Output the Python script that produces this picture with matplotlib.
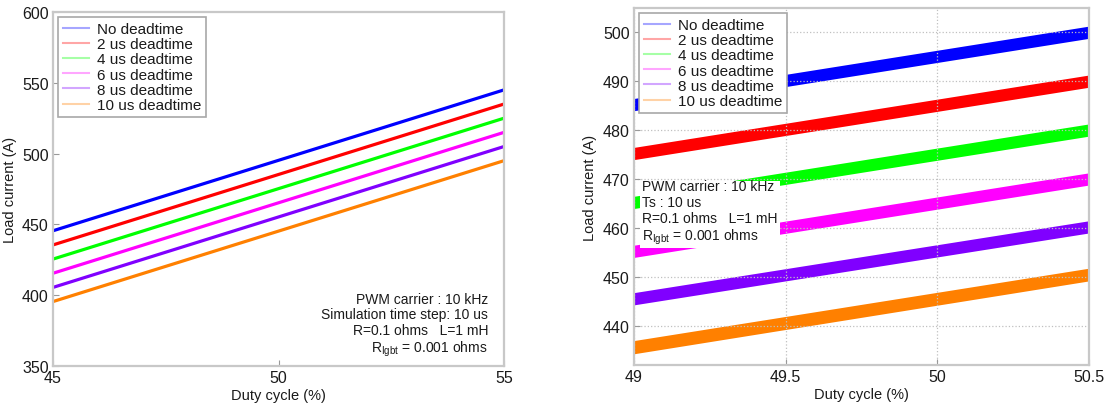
import matplotlib
matplotlib.use("Agg")
import matplotlib.pyplot as plt

plt.rcParams['font.family'] = ['Liberation Sans', 'DejaVu Sans']
plt.rcParams['mathtext.fontset'] = 'custom'
plt.rcParams['mathtext.rm'] = 'Liberation Sans'
plt.rcParams['mathtext.it'] = 'Liberation Sans'

labels = ['No deadtime', '2 us deadtime', '4 us deadtime',
          '6 us deadtime', '8 us deadtime', '10 us deadtime']
colors = ['#0000ff', '#ff0000', '#00ff00', '#ff00ff', '#8000ff', '#ff8000']

# left: average current vs duty cycle
duty_left = [45, 55]
cur_left = [[445.5, 545], [435.5, 535], [425.5, 525],
            [415.5, 515], [405.5, 505], [395.5, 495]]

# right: zoom, ripple band (low / high edge) at 49 and 50.5 %
duty_right = [49, 50.5]
band_lo = [[484.0, 498.8], [474.0, 488.8], [464.0, 478.8],
           [454.0, 468.8], [444.3, 459.0], [434.3, 449.2]]
band_hi = [[486.5, 501.3], [476.5, 491.3], [466.5, 481.3],
           [456.5, 471.3], [446.8, 461.5], [437.0, 451.8]]

spine_col = '#c8c8c8'

fig = plt.figure(figsize=(11.07, 4.06), dpi=100)
ax1 = fig.add_axes([53 / 1107, 1 - 367 / 406, 451 / 1107, 354 / 406])
ax2 = fig.add_axes([634 / 1107, 1 - 366 / 406, 455 / 1107, 357 / 406])

for i in range(len(labels)):
    ax1.plot(duty_left, cur_left[i], color=colors[i], lw=2.3, label=labels[i])
ax1.set_xlim(45, 55)
ax1.set_ylim(350, 600)
ax1.set_xticks([45, 50, 55])
ax1.set_yticks([350, 400, 450, 500, 550, 600])

for i in range(len(labels)):
    ax2.fill_between(duty_right, band_lo[i], band_hi[i], color=colors[i], lw=0)
    ax2.plot([], [], color=colors[i], lw=1.5, label=labels[i])
ax2.set_xlim(49, 50.5)
ax2.set_ylim(432, 505)
ax2.set_xticks([49, 49.5, 50, 50.5])
ax2.set_xticklabels(['49', '49.5', '50', '50.5'])
ax2.set_yticks([440, 450, 460, 470, 480, 490, 500])
ax2.grid(True, ls=':', color='#c0c0c0', lw=0.9)

for ax in (ax1, ax2):
    for s in ax.spines.values():
        s.set_color(spine_col)
        s.set_linewidth(1.6)
    ax.tick_params(direction='in', length=4, color='#999999', labelsize=11.5,
                   labelcolor='#1a1a1a', pad=3)
    ax.set_xlabel('Duty cycle (%)', fontsize=10.5, color='#1a1a1a', labelpad=2)
    ax.set_ylabel('Load current (A)', fontsize=10.5, color='#1a1a1a', labelpad=4)
    leg = ax.legend(loc='upper left', fontsize=11, frameon=True, fancybox=False,
                    framealpha=1, handlelength=1.7, handletextpad=0.55,
                    borderpad=0.3, labelspacing=0.08, borderaxespad=0.35)
    leg.get_frame().set_edgecolor('#a8a8a8')
    leg.get_frame().set_linewidth(1.2)
    for ln in leg.get_lines():
        ln.set_alpha(0.35)
        ln.set_linewidth(1.5)
    for t in leg.get_texts():
        t.set_color('#1a1a1a')

ax1.text(0.965, 0.21, 'PWM carrier : 10 kHz\nSimulation time step: 10 us\n'
         'R=0.1 ohms   L=1 mH\nR$_{\\rm Igbt}$ = 0.001 ohms ',
         transform=ax1.transAxes, ha='right', va='top', multialignment='right',
         fontsize=10, color='#1a1a1a', linespacing=1.15)

ax2.text(0.018, 0.52, 'PWM carrier : 10 kHz\nTs : 10 us\n'
         'R=0.1 ohms   L=1 mH\nR$_{\\rm Igbt}$ = 0.001 ohms',
         transform=ax2.transAxes, ha='left', va='top', fontsize=10,
         color='#1a1a1a', linespacing=1.15, zorder=5,
         bbox=dict(facecolor='white', edgecolor='none', pad=1.5))

fig.savefig('out.png', dpi=100)
